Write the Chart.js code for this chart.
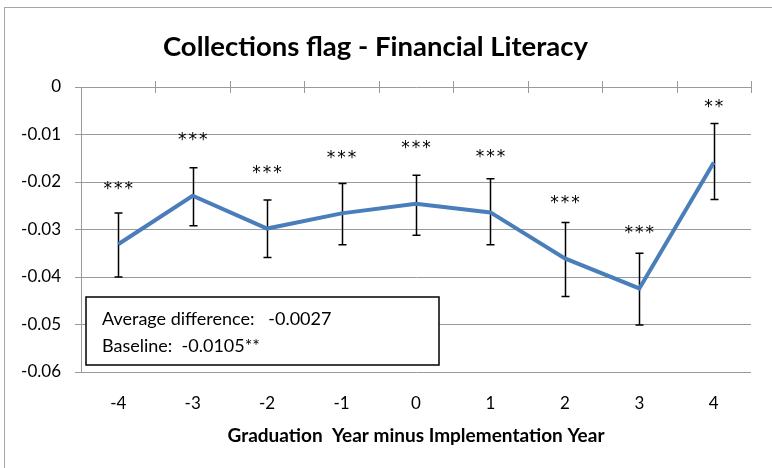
<!DOCTYPE html>
<html>
<head>
<meta charset="utf-8">
<script src="https://cdn.jsdelivr.net/npm/chart.js@4/dist/chart.umd.min.js"></script>
<style>
  body { margin: 0; background: #fff; }
  #wrap { position: relative; width: 772px; height: 468px; overflow: hidden; }
  #frame { position: absolute; left: 4px; top: 7px; width: 820px; height: 520px; border: 1px solid #a6a6a6; }
  #chart { position: absolute; left: 0; top: 0; }
</style>
</head>
<body>
<div id="wrap">
  <div id="frame"></div>
  <canvas id="chart" width="772" height="468"></canvas>
</div>
<script>
const years = ['-4', '-3', '-2', '-1', '0', '1', '2', '3', '4'];
const estimate = [-0.0331, -0.0229, -0.0298, -0.0266, -0.0246, -0.0264, -0.0361, -0.0424, -0.0159];
const upper = [-0.0265, -0.0170, -0.0238, -0.0203, -0.0186, -0.0193, -0.0285, -0.0350, -0.0077];
const lower = [-0.0400, -0.0292, -0.0359, -0.0332, -0.0312, -0.0332, -0.0441, -0.0501, -0.0237];
const stars = ['***', '***', '***', '***', '***', '***', '***', '***', '**'];
const noteLines = ['Average difference:   -0.0027', 'Baseline:  -0.0105**'];

const FONT = 'Lato, "Open Sans", sans-serif';

// tick marks crossing the zero line at category boundaries (Excel style)
const zeroAxis = {
  id: 'zeroAxis',
  afterDraw(chart) {
    const { ctx, chartArea, scales } = chart;
    const y0 = scales.y.getPixelForValue(0);
    const step = (chartArea.right - chartArea.left) / years.length;
    ctx.save();
    ctx.strokeStyle = '#9a9a9a';
    ctx.lineWidth = 1;
    ctx.beginPath();
    for (let i = 1; i <= years.length; i++) {
      const x = Math.round(chartArea.left + i * step) + 0.5;
      ctx.moveTo(x, y0 - 6);
      ctx.lineTo(x, y0 + 6);
    }
    ctx.stroke();
    ctx.restore();
  }
};

const errorBars = {
  id: 'errorBars',
  beforeDatasetsDraw(chart) {
    const { ctx, scales } = chart;
    ctx.save();
    ctx.strokeStyle = '#000';
    ctx.lineWidth = 1.5;
    ctx.beginPath();
    for (let i = 0; i < years.length; i++) {
      const x = Math.round(scales.x.getPixelForValue(i)) + 0.5;
      const yu = scales.y.getPixelForValue(upper[i]);
      const yl = scales.y.getPixelForValue(lower[i]);
      ctx.moveTo(x, yu); ctx.lineTo(x, yl);
      ctx.moveTo(x - 4, yu); ctx.lineTo(x + 4, yu);
      ctx.moveTo(x - 4, yl); ctx.lineTo(x + 4, yl);
    }
    ctx.stroke();
    ctx.restore();
  },
  afterDatasetsDraw(chart) {
    const { ctx, scales } = chart;
    ctx.save();
    ctx.fillStyle = '#000';
    ctx.font = '17px "DejaVu Sans", sans-serif';
    ctx.textAlign = 'center';
    ctx.textBaseline = 'middle';
    for (let i = 0; i < years.length; i++) {
      const x = scales.x.getPixelForValue(i);
      const y = scales.y.getPixelForValue(estimate[i]) - 58;
      const s = stars[i];
      const gap = 10.5;
      for (let k = 0; k < s.length; k++) {
        ctx.fillText(s[k], x + (k - (s.length - 1) / 2) * gap, y + 3);
      }
    }
    ctx.restore();
  }
};

const noteBox = {
  id: 'noteBox',
  afterDraw(chart) {
    const { ctx, chartArea } = chart;
    const left = chartArea.left + 5, top = 297, w = 353, h = 68;
    ctx.save();
    ctx.fillStyle = '#fff';
    ctx.fillRect(left, top, w, h);
    ctx.strokeStyle = '#000';
    ctx.lineWidth = 1.5;
    ctx.strokeRect(left, top, w, h);
    ctx.fillStyle = '#000';
    ctx.font = '18px ' + FONT;
    ctx.textBaseline = 'middle';
    ctx.fillText(noteLines[0], left + 16, top + 22);
    ctx.fillText(noteLines[1], left + 16, top + 49);
    ctx.restore();
  }
};

new Chart(document.getElementById('chart'), {
  type: 'line',
  data: {
    labels: years,
    datasets: [{
      data: estimate,
      borderColor: '#4a7ebb',
      borderWidth: 4,
      pointRadius: 0,
      tension: 0
    }]
  },
  options: {
    responsive: false,
    animation: false,
    layout: { padding: { top: 0, right: 21, bottom: 21, left: 0 } },
    plugins: {
      legend: { display: false },
      tooltip: { enabled: false },
      title: {
        display: true,
        text: 'Collections flag - Financial Literacy',
        color: '#000',
        font: { family: FONT, size: 27.5, weight: 'bold' },
        padding: { top: 30.5, bottom: 23.5 }
      }
    },
    scales: {
      x: {
        offset: true,
        afterFit(scale) { scale.height = 75; },
        grid: { display: false, tickLength: 0 },
        border: { display: false },
        ticks: { color: '#000', font: { family: FONT, size: 17 }, padding: 21, maxRotation: 0 },
        title: {
          display: true,
          text: 'Graduation  Year minus Implementation Year',
          color: '#000',
          font: { family: FONT, size: 19, weight: 'bold' },
          padding: { top: 11, bottom: 0 }
        }
      },
      y: {
        min: -0.06,
        max: 0,
        afterFit(scale) { scale.width = 81; },
        grid: { color: '#9a9a9a', tickLength: 6 },
        border: { color: '#9a9a9a' },
        ticks: {
          stepSize: 0.01,
          color: '#000',
          font: { family: FONT, size: 17 },
          padding: 14,
          callback: v => String(+v.toFixed(2))
        }
      }
    }
  },
  plugins: [zeroAxis, errorBars, noteBox]
});
</script>
</body>
</html>
